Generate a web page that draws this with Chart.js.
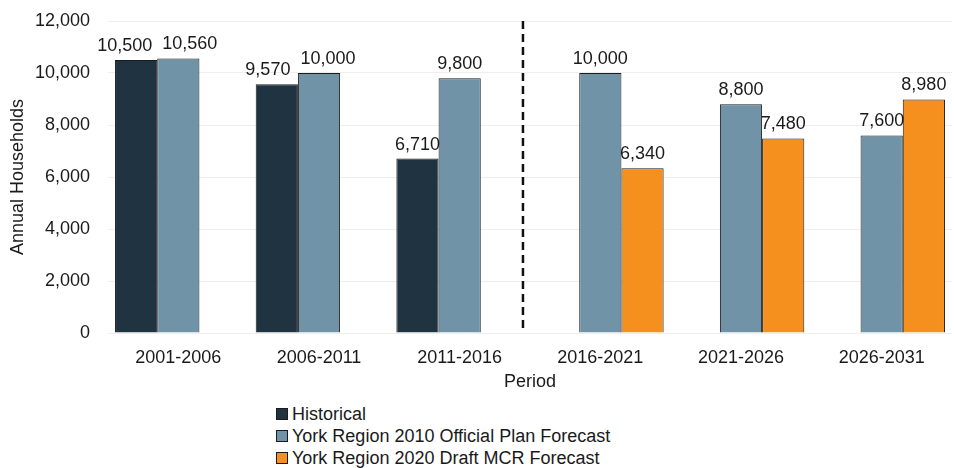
<!DOCTYPE html>
<html>
<head>
<meta charset="utf-8">
<script src="https://cdn.jsdelivr.net/npm/chart.js@4.4.1/dist/chart.umd.min.js"></script>
<style>
  body { margin: 0; background: #fff; }
  #wrap { position: relative; width: 954px; height: 468px; font-family: "Liberation Sans", Arial, sans-serif; color: #1a1a1a; }
  #chartBox { position: absolute; left: 0; top: 0; width: 954px; height: 398px; }
  #legend { position: absolute; left: 276px; top: 403px; font-size: 18px; line-height: 22px; }
  .item { display: flex; align-items: center; white-space: nowrap; }
  .box { width: 10px; height: 10px; border: 1px solid #1b1b1b; margin-right: 4px; }
</style>
</head>
<body>
<div id="wrap">
  <div id="chartBox"><canvas id="myChart"></canvas></div>
  <div id="legend"></div>
</div>
<script>
const periods = ["2001-2006", "2006-2011", "2011-2016", "2016-2021", "2021-2026", "2026-2031"];
const historical = [10500, 9570, 6710, null, null, null];
const officialPlan2010 = [10560, 10000, 9800, 10000, 8800, 7600];
const draftMcr2020 = [null, null, null, 6340, 7480, 8980];
const yTicks = [0, 2000, 4000, 6000, 8000, 10000, 12000];

const textColor = "#1a1a1a";
const fontFamily = "'Liberation Sans', Arial, sans-serif";
const canvasChart = document.getElementById("myChart");
const legendBox = document.getElementById("legend");

// value labels above the bars, pushed apart when two of them collide
const barLabels = {
  id: "barLabels",
  afterDatasetsDraw(chart) {
    const ctx = chart.ctx;
    ctx.save();
    ctx.font = "18px " + fontFamily;
    ctx.fillStyle = textColor;
    ctx.textAlign = "center";
    ctx.textBaseline = "bottom";
    periods.forEach((p, i) => {
      const labels = [];
      chart.data.datasets.forEach((ds, d) => {
        const v = ds.data[i];
        if (v == null) return;
        const bar = chart.getDatasetMeta(d).data[i];
        const text = v.toLocaleString("en-US");
        labels.push({ text, x: bar.x, y: bar.y - 5, w: ctx.measureText(text).width });
      });
      for (let k = 0; k + 1 < labels.length; k++) {
        const a = labels[k], b = labels[k + 1];
        const overlap = (a.w + b.w) / 2 + 10 - (b.x - a.x);
        if (overlap > 0 && Math.abs(a.y - b.y) < 20) {
          a.x -= overlap / 2;
          b.x += overlap / 2;
        }
      }
      labels.forEach((l) => ctx.fillText(l.text, l.x, l.y));
    });
    ctx.restore();
  },
};

// dashed divider between historical and forecast periods
const dividerLine = {
  id: "dividerLine",
  afterDatasetsDraw(chart) {
    const x = chart.scales.x;
    const area = chart.chartArea;
    const px = x.getPixelForValue(2) + 0.45 * (x.getPixelForValue(3) - x.getPixelForValue(2));
    const ctx = chart.ctx;
    ctx.save();
    ctx.strokeStyle = "#111";
    ctx.lineWidth = 2.5;
    ctx.setLineDash([8, 5]);
    ctx.beginPath();
    ctx.moveTo(px, area.top);
    ctx.lineTo(px, area.bottom);
    ctx.stroke();
    ctx.restore();
  },
};

const myChart = new Chart(canvasChart, {
  type: "bar",
  data: {
    labels: periods,
    datasets: [
      { label: "Historical", data: historical, backgroundColor: "#1f3341" },
      { label: "York Region 2010 Official Plan Forecast", data: officialPlan2010, backgroundColor: "#7093a8" },
      { label: "York Region 2020 Draft MCR Forecast", data: draftMcr2020, backgroundColor: "#f5901e" },
    ],
  },
  options: {
    responsive: true,
    maintainAspectRatio: false,
    animation: false,
    layout: { padding: { top: 21, right: 2, left: 0, bottom: 3 } },
    datasets: {
      bar: {
        categoryPercentage: 0.9,
        barPercentage: 1.0,
        borderColor: "#1b1b1b",
        borderWidth: 1,
      },
    },
    plugins: {
      legend: { display: false },
      tooltip: { enabled: false },
    },
    scales: {
      x: {
        afterFit: (s) => { s.height = 62; },
        grid: { display: false },
        border: { display: false },
        ticks: { color: textColor, font: { family: fontFamily, size: 18 }, padding: 6 },
        title: {
          display: true,
          text: "Period",
          color: textColor,
          font: { family: fontFamily, size: 18 },
          padding: { top: 1, bottom: 2 },
        },
      },
      y: {
        min: 0,
        max: 12000,
        afterBuildTicks: (s) => { s.ticks = yTicks.map((v) => ({ value: v })); },
        afterFit: (s) => { s.width = 108; },
        grid: { color: "#eeeeee", drawTicks: true, tickLength: 16, tickColor: "rgba(0,0,0,0)" },
        border: { display: false },
        ticks: {
          color: textColor,
          font: { family: fontFamily, size: 18 },
          padding: 2,
          callback: (v) => v.toLocaleString("en-US"),
        },
        title: {
          display: true,
          text: "Annual Households",
          color: textColor,
          font: { family: fontFamily, size: 18 },
          padding: { top: 7, bottom: 0 },
        },
      },
    },
  },
  plugins: [barLabels, dividerLine],
});

myChart.data.datasets.forEach((ds) => {
  const row = document.createElement("div");
  row.className = "item";
  row.innerHTML = '<span class="box" style="background:' + ds.backgroundColor + '"></span>' + ds.label;
  legendBox.appendChild(row);
});
</script>
</body>
</html>
